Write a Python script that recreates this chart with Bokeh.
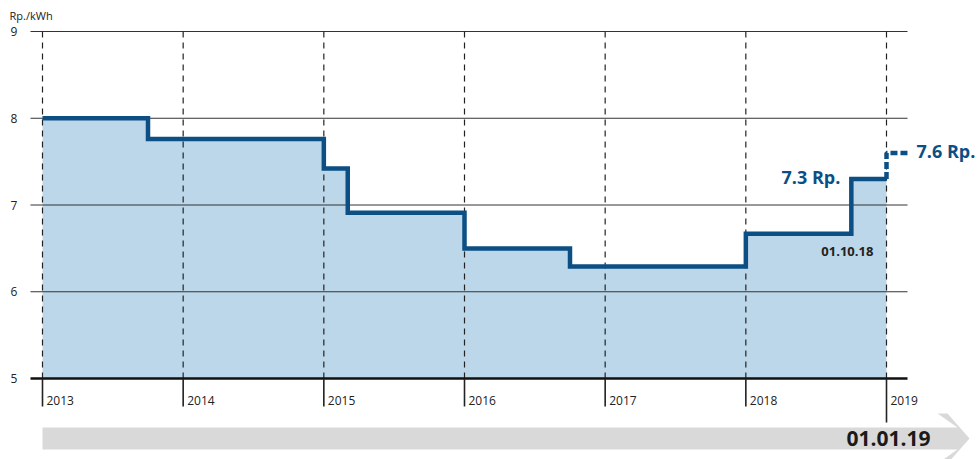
from bokeh.plotting import figure
from bokeh.models import Range1d
from bokeh.core.properties import value
from bokeh.embed import file_html
from bokeh.resources import INLINE

# ---- data ----
change_dates = [2013.0, 2013.75, 2015.0, 2015.17, 2016.0, 2016.75, 2018.0, 2018.75, 2019.0]
prices = [8.0, 7.76, 7.42, 6.91, 6.50, 6.29, 6.67, 7.30]
forecast_2019 = 7.6
years = [2013, 2014, 2015, 2016, 2017, 2018, 2019]
year_labels = ["2013", "2014", "2015", "2016", "2017", "2018", "2019"]
y_ticks = [5, 6, 7, 8, 9]
y_tick_labels = ["5", "6", "7", "8", "9"]
unit_label = "Rp./kWh"
label_now = "7.3 Rp."
label_next = "7.6 Rp."
label_change = "01.10.18"
label_date = "01.01.19"

FONT = value("Open Sans")
BLUE = "#0c4f84"
FILL = "#bdd7ea"

W, H = 978, 459
pxx = (886 - 42) / 6.0
pxy = (378 - 31) / 4.0
x0 = 2013 - 42 / pxx
x1 = x0 + W / pxx
y1 = 9 + 31 / pxy
y0 = y1 - H / pxy

def dx(px):
    return px / pxx

def dy(px):
    return px / pxy

p = figure(width=W, height=H, output_backend="svg", toolbar_location=None,
           x_range=Range1d(x0, x1), y_range=Range1d(y0, y1),
           min_border=0, min_border_left=0, min_border_right=0,
           min_border_top=0, min_border_bottom=0)
p.axis.visible = False
p.grid.visible = False
p.outline_line_color = None
p.background_fill_color = "white"
p.border_fill_color = "white"

# step vertices
sx, sy = [], []
for i, v in enumerate(prices):
    sx += [change_dates[i], change_dates[i + 1]]
    sy += [v, v]

# fill area
p.patch(x=[sx[0]] + sx + [sx[-1]], y=[min(y_ticks)] + sy + [min(y_ticks)],
        fill_color=FILL, line_color=None)

# horizontal grid lines
gx0, gx1 = 2013 - dx(12), 2019 + dx(21)
for t in y_ticks[1:]:
    p.line([gx0, gx1], [t, t], line_color="#333333", line_width=1)

# vertical dashed year lines
for yr in years:
    p.line([yr, yr], [min(y_ticks), max(y_ticks)], line_color="#222222",
           line_width=1.2, line_dash="6 5")

# baseline
p.line([gx0, gx1], [min(y_ticks), min(y_ticks)], line_color="#111111", line_width=2.5)

# tick marks below axis
for yr in years:
    bottom = min(y_ticks) - (dy(44) if yr == years[-1] else dy(28))
    p.line([yr, yr], [min(y_ticks), bottom], line_color="#222222", line_width=1.6)

# year labels
p.text(x=[yr + dx(4) for yr in years], y=[min(y_ticks) - dy(22)] * len(years),
       text=year_labels, text_font=FONT, text_font_size="12px",
       text_color="#222222", text_align="left", text_baseline="middle")

# y tick labels
p.text(x=[x0 + dx(10)] * len(y_ticks), y=y_ticks, text=y_tick_labels,
       text_font=FONT, text_font_size="12px", text_color="#222222",
       text_align="left", text_baseline="middle")
p.text(x=[x0 + dx(9)], y=[max(y_ticks) + dy(16)], text=[unit_label],
       text_font=FONT, text_font_size="11px", text_color="#222222",
       text_align="left", text_baseline="middle")

# step line
p.line(x=sx, y=sy, line_color=BLUE, line_width=4.5, line_join="miter")

# forecast dashed
p.line(x=[change_dates[-1], change_dates[-1], change_dates[-1] + dx(24)],
       y=[prices[-1], forecast_2019, forecast_2019],
       line_color=BLUE, line_width=4.5, line_dash="7 3")

# labels
p.text(x=[change_dates[-2] - dx(11)], y=[prices[-1] + dy(2)], text=[label_now],
       text_font=FONT, text_font_size="18px", text_font_style="bold",
       text_color=BLUE, text_align="right", text_baseline="middle")
p.text(x=[change_dates[-1] + dx(30)], y=[forecast_2019 + dy(2)], text=[label_next],
       text_font=FONT, text_font_size="18px", text_font_style="bold",
       text_color=BLUE, text_align="left", text_baseline="middle")
p.text(x=[change_dates[-2] - dx(4)], y=[prices[-2] - dy(18)], text=[label_change],
       text_font=FONT, text_font_size="13px", text_font_style="bold",
       text_color="#222222", text_align="center", text_baseline="middle")

# timeline arrow
cy = min(y_ticks) - dy(60)
bh = dy(11)
hh = dy(25)
ax0 = years[0]
tip = 2019 + dx(83)
hb = tip - dx(32)
hw = dx(10)
arr_x = [ax0, hb + dx(20), hb, hb + hw, tip, hb + hw, hb, hb + dx(20), ax0]
arr_y = [cy + bh, cy + bh, cy + hh, cy + hh, cy, cy - hh, cy - hh, cy - bh, cy - bh]
p.patch(x=arr_x, y=arr_y, fill_color="#d9d9d9", line_color=None)

p.text(x=[years[-1] + dx(2)], y=[cy], text=[label_date], text_font=FONT,
       text_font_size="21px", text_font_style="bold", text_color="#1a1a1a",
       text_align="center", text_baseline="middle")

open("out.html", "w").write(file_html(p, INLINE))
